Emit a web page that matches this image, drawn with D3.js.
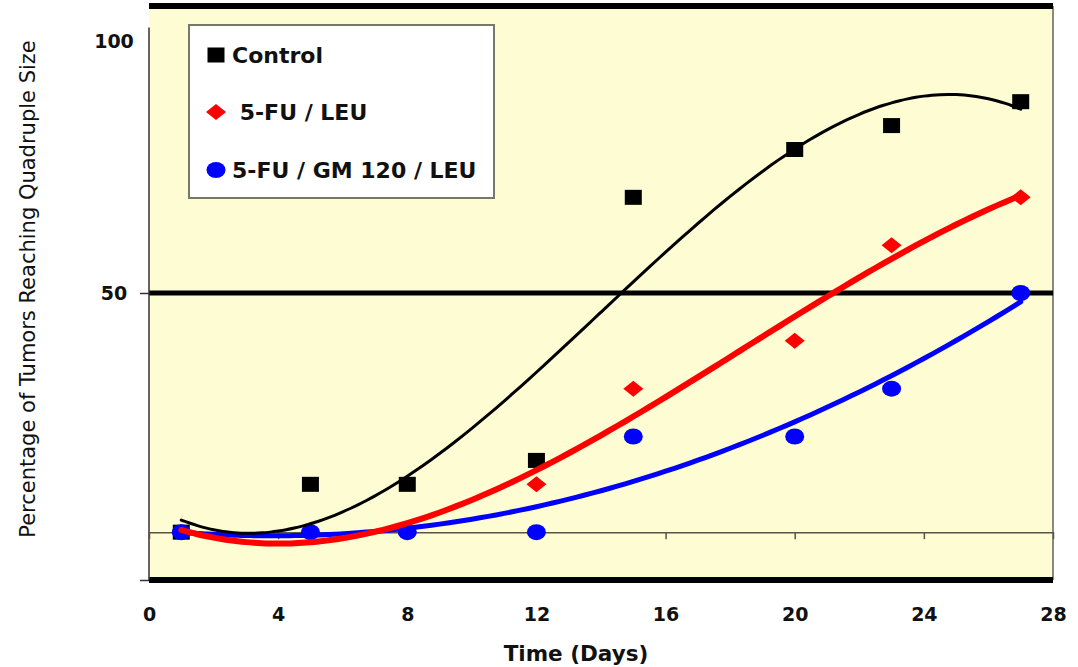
<!DOCTYPE html>
<html lang="en">
<head>
<meta charset="UTF-8">
<title>Tumors Reaching Quadruple Size</title>
<script src="https://d3js.org/d3.v7.min.js"></script>
<style>
  body { margin: 0; background: #ffffff; }
  text { font-family: "DejaVu Sans", "Liberation Sans", sans-serif; fill: #111; }
</style>
</head>
<body>
<div id="chart"></div>
<script>
// days when tumours were measured
var days = [1, 5, 8, 12, 15, 20, 23, 27];

// percentage of tumours that reached quadruple size, per group
var control = [0, 10, 10, 15, 70, 80, 85, 90];
var fuLeu = [0, 0, 0, 10, 30, 40, 60, 70];
var fuGmLeu = [0, 0, 0, 0, 20, 20, 30, 50];

var seriesNames = ["Control", " 5-FU / LEU", "5-FU / GM 120 / LEU"];
var xTicks = [0, 4, 8, 12, 16, 20, 24, 28];
var yTickLabels = [50, 100];

var width = 1078, height = 667;

var svg = d3.select("#chart").append("svg")
    .attr("width", width)
    .attr("height", height);

var x = d3.scaleLinear().domain([0, 28]).range([149, 1053]);
var y = d3.scaleLinear().domain([-10, 110]).range([580, 6]);

// least squares polynomial trendline (like the spreadsheet one)
function polyFit(xs, ys, order) {
    var n = order + 1, A = [], b = [];
    for (var i = 0; i < n; i++) {
        A.push([]);
        for (var j = 0; j < n; j++) {
            A[i].push(d3.sum(xs, function(v) { return Math.pow(v, i + j); }));
        }
        b.push(d3.sum(xs, function(v, k) { return ys[k] * Math.pow(v, i); }));
    }
    for (var c = 0; c < n; c++) {
        var p = c;
        for (var r = c + 1; r < n; r++) if (Math.abs(A[r][c]) > Math.abs(A[p][c])) p = r;
        var t = A[c]; A[c] = A[p]; A[p] = t;
        t = b[c]; b[c] = b[p]; b[p] = t;
        for (r = c + 1; r < n; r++) {
            var f = A[r][c] / A[c][c];
            for (j = c; j < n; j++) A[r][j] -= f * A[c][j];
            b[r] -= f * b[c];
        }
    }
    var coef = new Array(n).fill(0);
    for (c = n - 1; c >= 0; c--) {
        var s = b[c];
        for (j = c + 1; j < n; j++) s -= A[c][j] * coef[j];
        coef[c] = s / A[c][c];
    }
    return function(v) {
        return d3.sum(coef, function(a, k) { return a * Math.pow(v, k); });
    };
}

var series = [
    { name: seriesNames[0], values: control, color: "#000000", shape: "square", order: 3, lw: 3 },
    { name: seriesNames[1], values: fuLeu, color: "#ff0000", shape: "diamond", order: 3, lw: 6 },
    { name: seriesNames[2], values: fuGmLeu, color: "#0000ff", shape: "circle", order: 2, lw: 5 }
];

// plot background
svg.append("rect")
    .attr("x", x(0)).attr("y", y(110))
    .attr("width", x(28) - x(0)).attr("height", y(-10) - y(110))
    .attr("fill", "#fefcd2");

svg.append("line")
    .attr("x1", x(28)).attr("x2", x(28))
    .attr("y1", y(110)).attr("y2", y(-10))
    .attr("stroke", "#8a8a80").attr("stroke-width", 2);

// heavy horizontal rules: top, 50 % and bottom
[[110, 6], [50, 5], [-10, 6]].forEach(function(r) {
    svg.append("line")
        .attr("x1", x(0)).attr("x2", x(28))
        .attr("y1", y(r[0])).attr("y2", y(r[0]))
        .attr("stroke", "#000").attr("stroke-width", r[1]);
});

// y axis
var yAxis = svg.append("g")
    .attr("transform", "translate(" + x(0) + ",0)")
    .call(d3.axisLeft(y).tickValues([-10, 50]).tickSize(9).tickFormat(""));
yAxis.select(".domain").remove();
yAxis.selectAll(".tick line").attr("stroke", "#333").attr("stroke-width", 1.5);
svg.append("line")
    .attr("x1", x(0)).attr("x2", x(0))
    .attr("y1", y(105.5)).attr("y2", y(-10))
    .attr("stroke", "#333").attr("stroke-width", 1.5);

svg.selectAll(".ylab")
    .data(yTickLabels)
    .enter().append("text")
    .attr("class", "ylab")
    .attr("x", 114)
    .attr("y", function(d) { return y(d) + (d === 100 ? -13 : 0); })
    .attr("dy", "0.36em")
    .attr("text-anchor", "middle")
    .style("font-size", "19px")
    .style("font-weight", "bold")
    .text(function(d) { return d; });

// x axis (crosses at 0 %)
var xAxis = svg.append("g")
    .attr("transform", "translate(0," + y(0) + ")")
    .call(d3.axisBottom(x).tickValues(xTicks).tickSize(7).tickPadding(68).tickSizeOuter(0));
xAxis.select(".domain").attr("stroke", "#55554a").attr("stroke-width", 1.5);
xAxis.selectAll(".tick line").attr("stroke", "#55554a").attr("stroke-width", 1.5);
xAxis.selectAll(".tick text")
    .attr("fill", "#111")
    .style("font-family", "'DejaVu Sans', sans-serif")
    .style("font-size", "19px")
    .style("font-weight", "bold");

// axis titles
svg.append("text")
    .attr("x", 576).attr("y", 661)
    .attr("text-anchor", "middle")
    .style("font-size", "21.5px")
    .style("font-weight", "bold")
    .text("Time (Days)");

svg.append("text")
    .attr("transform", "translate(35,289) rotate(-90)")
    .attr("text-anchor", "middle")
    .style("font-size", "21px")
    .text("Percentage of Tumors Reaching Quadruple Size");

// markers
function drawMarker(g, shape, color, cx, cy) {
    if (shape === "square") {
        g.append("rect").attr("x", cx - 8.5).attr("y", cy - 7.5)
            .attr("width", 17).attr("height", 15).attr("fill", color);
    } else if (shape === "diamond") {
        g.append("path")
            .attr("d", "M" + (cx - 10) + "," + cy + "L" + cx + "," + (cy - 8) +
                "L" + (cx + 10) + "," + cy + "L" + cx + "," + (cy + 8) + "Z")
            .attr("fill", color);
    } else {
        g.append("ellipse").attr("cx", cx).attr("cy", cy)
            .attr("rx", 9.5).attr("ry", 8).attr("fill", color);
    }
}

var markers = svg.append("g");
series.forEach(function(s) {
    days.forEach(function(d, i) {
        drawMarker(markers, s.shape, s.color, x(d), y(s.values[i]));
    });
});

// trendlines, blue first so red and black sit on top
var line = d3.line()
    .x(function(d) { return x(d[0]); })
    .y(function(d) { return y(d[1]); })
    .curve(d3.curveBasis);

series.slice().reverse().forEach(function(s) {
    var fit = polyFit(days, s.values, s.order);
    var pts = d3.range(days[0], days[days.length - 1] + 0.001, 0.25)
        .map(function(v) { return [v, fit(v)]; });
    svg.append("path")
        .datum(pts)
        .attr("d", line)
        .attr("fill", "none")
        .attr("stroke", s.color)
        .attr("stroke-width", s.lw)
        .attr("stroke-linecap", "round");
});

// legend
var legend = svg.append("g");
legend.append("rect")
    .attr("x", 189).attr("y", 25)
    .attr("width", 305).attr("height", 173)
    .attr("fill", "#ffffff")
    .attr("stroke", "#77776a").attr("stroke-width", 2);

var legendY = [55, 112, 170];
series.forEach(function(s, i) {
    drawMarker(legend, s.shape, s.color, 216, legendY[i]);
    legend.append("text")
        .attr("x", 232).attr("y", legendY[i])
        .attr("dy", "0.36em")
        .style("font-size", "22px")
        .style("font-weight", "bold")
        .style("white-space", "pre")
        .attr("xml:space", "preserve")
        .text(s.name);
});
</script>
</body>
</html>
